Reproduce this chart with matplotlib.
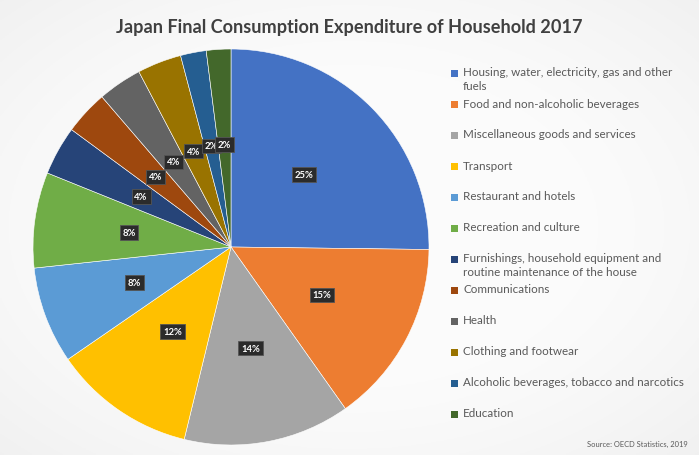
import numpy as np
import matplotlib
matplotlib.use("Agg")
import matplotlib.pyplot as plt
import matplotlib.patches as mpatches

# household final consumption shares, 2017 (percent)
categories = [
    "Housing, water, electricity, gas and other\nfuels",
    "Food and non-alcoholic beverages",
    "Miscellaneous goods and services",
    "Transport",
    "Restaurant and hotels",
    "Recreation and culture",
    "Furnishings, household equipment and\nroutine maintenance of the house",
    "Communications",
    "Health",
    "Clothing and footwear",
    "Alcoholic beverages, tobacco and narcotics",
    "Education",
]
shares = [25.2, 15.0, 13.6, 11.6, 7.9, 7.8, 4.0, 3.6, 3.6, 3.6, 2.1, 2.0]

colors = ["#4472C4", "#ED7D31", "#A5A5A5", "#FFC000", "#5B9BD5", "#70AD47",
          "#264478", "#9E480E", "#636363", "#997300", "#255E91", "#43682B"]

plt.rcParams['font.family'] = ['Lato', 'DejaVu Sans']

W, H = 699, 456
fig = plt.figure(figsize=(W / 100, H / 100), dpi=100)

# soft grey background, lighter towards the middle
bg = fig.add_axes([0, 0, 1, 1], zorder=-10)
yy, xx = np.mgrid[0:1:200j, 0:1:300j]
d = np.sqrt(((xx - 0.5) / 0.62) ** 2 + ((yy - 0.5) / 0.62) ** 2)
shade = 0.985 - 0.08 * np.clip(d - 0.55, 0, None) ** 1.3
bg.imshow(np.dstack([shade] * 3), extent=[0, 1, 0, 1], aspect='auto')
bg.axis('off')

# pie axes: center (231, 248) px, radius 198 px
cx, cy, r = 231, 248, 198
ax = fig.add_axes([(cx - r) / W, (H - cy - r) / H, 2 * r / W, 2 * r / H])
wedges, texts, autotexts = ax.pie(
    shares, colors=colors, startangle=90, counterclock=False,
    autopct='%.0f%%', pctdistance=0.52,
    wedgeprops=dict(edgecolor='white', linewidth=0.4),
    textprops=dict(color='white', fontsize=6.8, fontweight='bold'))
for t in autotexts:
    t.set_bbox(dict(boxstyle='square,pad=0.3', facecolor='#2b2b2b',
                    edgecolor='#555555', linewidth=0.6))
ax.set_xlim(-1, 1)
ax.set_ylim(-1, 1)
ax.set_aspect('equal')
ax.axis('off')

fig.text(349 / W, 1 - 28 / H, "Japan Final Consumption Expenditure of Household 2017",
         ha='center', va='center', fontsize=13.1, fontweight='bold', color='#404040')

# legend entries, one every 31 px
for i, (name, c) in enumerate(zip(categories, colors)):
    y = 74 + 31 * i
    fig.patches.append(mpatches.Rectangle((451 / W, 1 - (y + 3.5) / H), 7 / W, 7 / H,
                                          transform=fig.transFigure, facecolor=c,
                                          edgecolor='none'))
    fig.text(463 / W, 1 - (y - 6.5) / H, name, ha='left', va='top', fontsize=8.4,
             color='#595959', linespacing=1.3)

fig.text(688 / W, 1 - 444 / H, "Source: OECD Statistics, 2019", ha='right',
         va='center', fontsize=5.4, color='#595959')

fig.savefig("out.png", dpi=100)
